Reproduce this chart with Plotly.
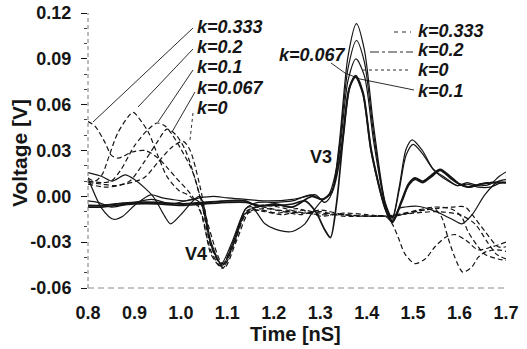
import plotly.graph_objects as go

# ---------------- data ----------------
k_labels = ["k=0.333", "k=0.2", "k=0", "k=0.1", "k=0.067"]

# Solid curves (V3 family)
t_s333 = [0.80, 0.83, 0.855, 0.875, 0.90, 0.935, 0.96, 0.98, 1.01, 1.04, 1.07, 1.10, 1.14, 1.19, 1.24, 1.27, 1.29, 1.31, 1.325, 1.34, 1.36, 1.378, 1.395, 1.415, 1.44, 1.455, 1.47, 1.485, 1.498, 1.52, 1.543, 1.57, 1.595, 1.616, 1.64, 1.666, 1.685, 1.70]
v_s333 = [0.012, -0.008, -0.015, -0.013, -0.006, 0.001, -0.001, -0.002, -0.003, -0.001, 0.000, -0.001, -0.002, -0.003, -0.002, 0.000, 0.001, -0.004, 0.002, 0.032, 0.092, 0.113, 0.096, 0.046, -0.004, -0.014, 0.006, 0.031, 0.037, 0.030, 0.018, 0.012, 0.007, 0.009, 0.007, 0.008, 0.013, 0.016]

t_s2 = [0.80, 0.83, 0.852, 0.88, 0.90, 0.94, 0.965, 0.978, 1.00, 1.04, 1.065, 1.087, 1.11, 1.14, 1.166, 1.20, 1.24, 1.28, 1.305, 1.325, 1.34, 1.36, 1.378, 1.395, 1.415, 1.44, 1.455, 1.47, 1.485, 1.50, 1.52, 1.545, 1.57, 1.595, 1.616, 1.64, 1.666, 1.69, 1.70]
v_s2 = [0.0155, 0.013, 0.010, 0.014, 0.011, 0.000, -0.013, -0.018, -0.012, 0.000, -0.030, -0.044, -0.030, -0.008, -0.004, -0.004, -0.003, 0.001, -0.002, 0.003, 0.029, 0.084, 0.102, 0.088, 0.041, -0.005, -0.015, 0.004, 0.027, 0.034, 0.028, 0.017, 0.011, 0.007, 0.008, 0.006, 0.006, 0.009, 0.009]

t_s0 = [0.80, 0.822, 0.851, 0.887, 0.937, 0.98, 1.03, 1.045, 1.065, 1.09, 1.115, 1.14, 1.153, 1.181, 1.203, 1.24, 1.267, 1.28, 1.30, 1.32, 1.34, 1.36, 1.377, 1.395, 1.415, 1.44, 1.455, 1.47, 1.483, 1.51, 1.547, 1.584, 1.605, 1.627, 1.655, 1.683, 1.70]
v_s0 = [-0.003, -0.004, -0.007, -0.005, -0.002, -0.005, -0.002, -0.006, -0.032, -0.045, -0.028, -0.008, -0.007, -0.018, -0.0215, -0.023, -0.018, -0.012, -0.004, 0.002, 0.026, 0.076, 0.090, 0.079, 0.036, -0.006, -0.016, -0.008, -0.007, -0.0065, -0.0098, -0.015, -0.018, -0.012, 0.0013, 0.0098, 0.011]

t_s1 = [0.80, 0.83, 0.86, 0.90, 0.95, 1.00, 1.05, 1.10, 1.138, 1.166, 1.203, 1.24, 1.282, 1.304, 1.325, 1.345, 1.362, 1.376, 1.392, 1.41, 1.44, 1.455, 1.475, 1.49, 1.504, 1.521, 1.54, 1.558, 1.58, 1.60, 1.62, 1.645, 1.67, 1.70]
v_s1 = [-0.006, -0.006, -0.005, -0.004, -0.004, -0.005, -0.004, -0.003, -0.003, -0.0065, -0.005, -0.007, 0.000, -0.002, 0.003, 0.030, 0.070, 0.079, 0.068, 0.030, -0.008, -0.017, -0.003, 0.008, 0.012, 0.0098, 0.014, 0.0176, 0.013, 0.008, 0.006, 0.008, 0.009, 0.009]

t_s067 = [0.80, 0.83, 0.86, 0.90, 0.95, 1.00, 1.05, 1.10, 1.14, 1.17, 1.20, 1.24, 1.267, 1.29, 1.31, 1.322, 1.335, 1.35, 1.364, 1.376, 1.392, 1.41, 1.44, 1.455, 1.475, 1.49, 1.504, 1.521, 1.54, 1.558, 1.58, 1.60, 1.62, 1.645, 1.67, 1.70]
v_s067 = [-0.007, -0.007, -0.006, -0.005, -0.005, -0.006, -0.005, -0.004, -0.004, -0.006, -0.006, -0.005, -0.003, -0.010, -0.022, -0.027, -0.005, 0.040, 0.072, 0.078, 0.067, 0.029, -0.008, -0.017, -0.004, 0.007, 0.011, 0.009, 0.013, 0.017, 0.012, 0.008, 0.006, 0.008, 0.009, 0.009]

# Dashed curves (V4 family)
t_d333 = [0.80, 0.815, 0.837, 0.85, 0.865, 0.895, 0.923, 0.951, 0.97, 0.99, 1.02, 1.04, 1.065, 1.087, 1.11, 1.14, 1.17, 1.21, 1.25, 1.30, 1.35, 1.40, 1.44, 1.455, 1.468, 1.483, 1.504, 1.526, 1.547, 1.569, 1.59, 1.615, 1.64, 1.67, 1.70]
v_d333 = [0.049, 0.046, 0.035, 0.027, 0.025, 0.029, 0.030, 0.025, 0.019, 0.012, 0.002, -0.008, -0.036, -0.046, -0.032, -0.011, -0.006, -0.007, -0.010, -0.012, -0.012, -0.013, -0.013, -0.018, -0.027, -0.038, -0.044, -0.041, -0.033, -0.027, -0.025, -0.029, -0.035, -0.033, -0.030]

t_d2 = [0.80, 0.815, 0.83, 0.845, 0.865, 0.897, 0.91, 0.93, 0.95, 0.97, 0.995, 1.02, 1.045, 1.065, 1.09, 1.115, 1.14, 1.17, 1.21, 1.26, 1.30, 1.35, 1.40, 1.44, 1.461, 1.51, 1.547, 1.562, 1.575, 1.59, 1.607, 1.627, 1.64, 1.655, 1.68, 1.70]
v_d2 = [0.012, 0.010, 0.014, 0.026, 0.042, 0.055, 0.051, 0.042, 0.027, 0.013, 0.004, 0.000, -0.012, -0.038, -0.047, -0.030, -0.010, -0.007, -0.009, -0.011, -0.010, -0.013, -0.013, -0.013, -0.013, -0.0098, -0.0085, -0.014, -0.027, -0.040, -0.0496, -0.046, -0.040, -0.0365, -0.035, -0.036]

t_d1 = [0.80, 0.83, 0.85, 0.87, 0.90, 0.93, 0.949, 0.966, 0.98, 1.00, 1.024, 1.045, 1.065, 1.09, 1.115, 1.14, 1.17, 1.21, 1.25, 1.30, 1.35, 1.40, 1.44, 1.476, 1.51, 1.547, 1.584, 1.605, 1.618, 1.64, 1.655, 1.683, 1.70]
v_d1 = [0.010, 0.009, 0.010, 0.017, 0.033, 0.044, 0.048, 0.046, 0.041, 0.031, 0.017, -0.005, -0.033, -0.046, -0.031, -0.012, -0.009, -0.011, -0.008, -0.013, -0.011, -0.012, -0.013, -0.0117, -0.009, -0.007, -0.0085, -0.0137, -0.023, -0.033, -0.038, -0.041, -0.042]

t_d067 = [0.80, 0.83, 0.86, 0.89, 0.92, 0.95, 0.97, 0.99, 1.01, 1.03, 1.05, 1.07, 1.093, 1.12, 1.15, 1.18, 1.22, 1.26, 1.30, 1.35, 1.40, 1.44, 1.50, 1.55, 1.584, 1.612, 1.627, 1.655, 1.683, 1.70]
v_d067 = [0.009, 0.008, 0.007, 0.010, 0.022, 0.036, 0.044, 0.040, 0.030, 0.012, -0.010, -0.036, -0.047, -0.029, -0.009, -0.010, -0.012, -0.009, -0.011, -0.012, -0.013, -0.013, -0.010, -0.008, -0.007, -0.007, -0.012, -0.023, -0.033, -0.033]

t_d0 = [0.80, 0.84, 0.88, 0.92, 0.95, 0.98, 1.005, 1.02, 1.04, 1.06, 1.09, 1.115, 1.14, 1.18, 1.22, 1.26, 1.30, 1.35, 1.40, 1.44, 1.50, 1.55, 1.60, 1.633, 1.66, 1.68, 1.70]
v_d0 = [0.008, 0.006, 0.008, 0.012, 0.022, 0.032, 0.036, 0.030, 0.008, -0.020, -0.044, -0.030, -0.011, -0.008, -0.010, -0.012, -0.009, -0.012, -0.013, -0.013, -0.011, -0.010, -0.012, -0.018, -0.030, -0.038, -0.041]

x_ticks = [0.8, 0.9, 1.0, 1.1, 1.2, 1.3, 1.4, 1.5, 1.6, 1.7]
x_tick_text = ["0.8", "0.9", "1.0", "1.1", "1.2", "1.3", "1.4", "1.5", "1.6", "1.7"]
y_ticks = [-0.06, -0.03, 0.00, 0.03, 0.06, 0.09, 0.12]
y_tick_text = ["-0.06", "-0.03", "0.00", "0.03", "0.06", "0.09", "0.12"]

# ---------------- figure ----------------
W, H = 527, 349
L, T = 88, 13
R, B = W - 506, H - 288
PW, PH = W - L - R, H - T - B

def px(x):  # window pixel -> paper x
    return (x - L) / PW

def py(y):  # window pixel -> paper y
    return (H - B - y) / PH

INK = "#151515"
FAM = "Liberation Sans, Arial, sans-serif"
fig = go.Figure()

solid = [(t_s333, v_s333, 1.2), (t_s2, v_s2, 1.2), (t_s0, v_s0, 1.2),
         (t_s1, v_s1, 1.9), (t_s067, v_s067, 1.7)]
for t, v, w in solid:
    fig.add_trace(go.Scatter(x=t, y=v, mode="lines",
                             line=dict(color=INK, width=w, shape="spline", smoothing=0.8),
                             showlegend=False, hoverinfo="skip"))

dashed = [(t_d333, v_d333), (t_d2, v_d2), (t_d1, v_d1), (t_d067, v_d067), (t_d0, v_d0)]
for t, v in dashed:
    fig.add_trace(go.Scatter(x=t, y=v, mode="lines",
                             line=dict(color=INK, width=1.2, dash="5px,3px", shape="spline", smoothing=0.8),
                             showlegend=False, hoverinfo="skip"))

shapes = []
# faint dashed axis lines
shapes.append(dict(type="line", xref="paper", yref="paper", x0=0, x1=0, y0=0, y1=1,
                   line=dict(color="#777", width=1, dash="4px,3px")))
shapes.append(dict(type="line", xref="paper", yref="paper", x0=0, x1=1, y0=0, y1=0,
                   line=dict(color="#888", width=1, dash="6px,4px")))

def seg(x0, y0, x1, y1, dash="solid", w=0.9):
    shapes.append(dict(type="line", xref="paper", yref="paper",
                       x0=px(x0), y0=py(y0), x1=px(x1), y1=py(y1),
                       line=dict(color=INK, width=w, dash=dash)))

# left pointers
seg(193, 28, 93, 122)
seg(193, 49, 138, 107)
seg(193, 70, 158, 122)
seg(195, 92, 172, 132)
seg(193, 113, 190, 140, dash="dot")
# right legend samples / pointers
seg(394, 32, 411, 32, dash="4px,4px")
seg(370, 52, 413, 52, dash="dashdot")
seg(363, 70, 410, 70, dash="dot")
seg(331, 63, 345, 73)
seg(345, 73, 360, 79)
seg(360, 79, 414, 90)

fig.update_layout(shapes=shapes)

font_lab = dict(family=FAM, size=18, color=INK, weight="bold")
ann = []
def txt(x, y, s, anchor="left", size=18, angle=0, weight="bold", italic=False):
    f = dict(family=FAM, size=size, color=INK, weight=weight)
    if italic:
        f["style"] = "italic"
    ann.append(dict(xref="paper", yref="paper", x=px(x), y=py(y), text=s, showarrow=False,
                    xanchor=anchor, yanchor="middle", textangle=angle, font=f))

left_y = [27, 47, 67, 88, 108]
left_txt = ["k=0.333", "k=0.2", "k=0.1", "k=0.067", "k=0"]
for yy, s in zip(left_y, left_txt):
    txt(195, yy, s, italic=True)
right_y = [31, 50, 70, 91]
right_txt = ["k=0.333", "k=0.2", "k=0", "k=0.1"]
for yy, s in zip(right_y, right_txt):
    txt(416, yy, s, italic=True)
txt(277, 55, "k=0.067", italic=True)
txt(321, 157, "V3", anchor="center")
txt(196, 254, "V4", anchor="center")
txt(295, 334, "Time [nS]", anchor="center", size=20)
txt(20, 153, "Voltage [V]", anchor="center", size=21, angle=-90)
fig.update_layout(annotations=ann)

fig.update_layout(
    width=W, height=H,
    margin=dict(l=L, r=R, t=T, b=B, pad=0, autoexpand=False),
    paper_bgcolor="white", plot_bgcolor="white",
    font=font_lab,
    showlegend=False,
)
fig.update_xaxes(range=[0.8, 1.7], tickvals=x_ticks, ticktext=x_tick_text,
                 showgrid=False, zeroline=False, showline=False, automargin=False,
                 ticks="", ticklabelstandoff=12, tickfont=font_lab)
fig.update_yaxes(range=[-0.06, 0.12], tickvals=y_ticks, ticktext=y_tick_text,
                 showgrid=False, zeroline=False, showline=False, automargin=False,
                 ticks="outside", ticklen=6, tickcolor=INK, tickwidth=1,
                 ticklabeloverflow="allow",
                 minor=dict(tickvals=[-0.05, -0.04, -0.02, -0.01, 0.01, 0.02, 0.04, 0.05, 0.07, 0.08, 0.10, 0.11],
                            ticks="outside", ticklen=3, tickcolor="#444"),
                 ticklabelstandoff=6, tickfont=font_lab)

fig.write_html("out.html", config={"displayModeBar": False},
               post_script="document.body.style.margin='0';document.body.style.padding='0';")
